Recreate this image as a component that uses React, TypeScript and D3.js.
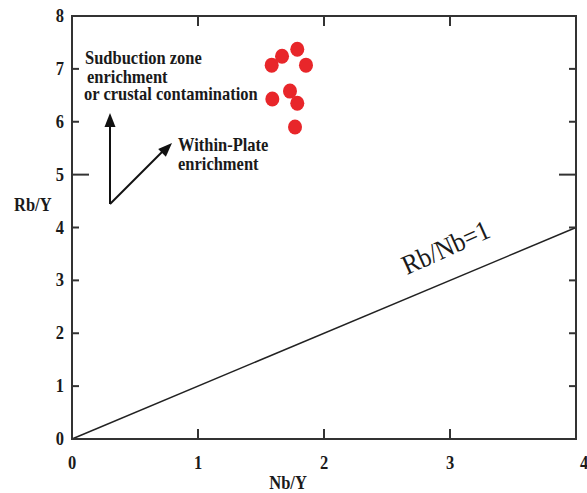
import React from "react";
import * as d3 from "d3";

const W = 587;
const H = 493;

const nbY = [1.585, 1.667, 1.788, 1.857, 1.59, 1.73, 1.788, 1.77];
const rbY = [7.07, 7.24, 7.37, 7.07, 6.43, 6.58, 6.35, 5.9];
const xTicks = [0, 1, 2, 3, 4];
const yTicks = [0, 1, 2, 3, 4, 5, 6, 7, 8];
const refLine = [[0, 0], [4, 4]]; // Rb/Nb = 1 → Rb/Y = Nb/Y

const FONT = "'Liberation Serif', 'Times New Roman', serif";

function T({ x, y, children, size = 16.5, bold = true, anchor = "start", sy = 1.15, rot = 0 }: any) {
  return (
    <text
      transform={`translate(${x},${y}) rotate(${rot}) scale(1,${sy})`}
      fontFamily={FONT}
      fontSize={size}
      fontWeight={bold ? "bold" : "normal"}
      textAnchor={anchor}
      fill="#1a1a1a"
    >
      {children}
    </text>
  );
}

export default function App() {
  const x = d3.scaleLinear().domain([0, 4]).range([72, 576]);
  const y = d3.scaleLinear().domain([0, 8]).range([439, 16]);
  const line = d3.line<number[]>().x((d) => x(d[0])).y((d) => y(d[1]));

  const ang = (Math.atan2(y(0) - y(4), x(4) - x(0)) * 180) / Math.PI;

  const arrowHead = (tx: number, ty: number, fx: number, fy: number) => {
    const a = Math.atan2(ty - fy, tx - fx);
    const len = 14, half = 5.5;
    const bx = tx - len * Math.cos(a), by = ty - len * Math.sin(a);
    const px = -Math.sin(a) * half, py = Math.cos(a) * half;
    return `M${tx},${ty}L${bx + px},${by + py}L${bx - px},${by - py}Z`;
  };

  return (
    <svg width={W} height={H} style={{ position: "absolute", left: 0, top: 0, background: "#fff" }}>
      {/* reference line */}
      <path d={line(refLine as any) || ""} stroke="#222" strokeWidth={1.5} fill="none" />

      {/* frame */}
      <rect x={x(0)} y={y(8)} width={x(4) - x(0)} height={y(0) - y(8)} fill="none" stroke="#333" strokeWidth={2} />

      {/* ticks left & right */}
      {yTicks.slice(1, -1).map((t) => {
        const L = t === 5 ? 17 : 7;
        return (
          <g key={"yt" + t}>
            <line x1={x(0)} x2={x(0) + L} y1={y(t)} y2={y(t)} stroke="#333" strokeWidth={2} />
            <line x1={x(4)} x2={x(4) - L} y1={y(t)} y2={y(t)} stroke="#333" strokeWidth={2} />
          </g>
        );
      })}
      {/* ticks bottom & top */}
      {xTicks.slice(1, -1).map((t) => (
        <g key={"xt" + t}>
          <line x1={x(t)} x2={x(t)} y1={y(0)} y2={y(0) - 10} stroke="#333" strokeWidth={2} />
          <line x1={x(t)} x2={x(t)} y1={y(8)} y2={y(8) + 10} stroke="#333" strokeWidth={2} />
        </g>
      ))}

      {/* tick labels */}
      {yTicks.map((t) => (
        <T key={"yl" + t} x={64} y={y(t) + 6} anchor="end">
          {t}
        </T>
      ))}
      {xTicks.map((t) => (
        <T key={"xl" + t} x={x(t) + (t === 4 ? 8 : 0)} y={469} anchor="middle">
          {t}
        </T>
      ))}

      {/* axis titles */}
      <T x={14} y={211}>Rb/Y</T>
      <T x={288} y={489} anchor="middle">Nb/Y</T>

      {/* annotations */}
      <T x={85} y={64}>Sudbuction zone</T>
      <T x={87} y={83}> enrichment</T>
      <T x={84} y={100}>or crustal contamination</T>
      <T x={178} y={151}>Within-Plate</T>
      <T x={178} y={170}>enrichment</T>

      {/* arrows */}
      <line x1={110} y1={204} x2={110} y2={122} stroke="#111" strokeWidth={2} />
      <path d={arrowHead(110, 113, 110, 204)} fill="#111" />
      <line x1={110} y1={204} x2={165} y2={149} stroke="#111" strokeWidth={2} />
      <path d={arrowHead(172, 143, 110, 204)} fill="#111" />

      {/* Rb/Nb=1 label */}
      <T x={407} y={275} size={25} bold={false} rot={-ang - 1.5} sy={1.1}>
        Rb/Nb=1
      </T>

      {/* points */}
      {nbY.map((v, i) => (
        <ellipse key={"p" + i} cx={x(v)} cy={y(rbY[i])} rx={7} ry={7.5} fill="#e8262a" />
      ))}
    </svg>
  );
}
